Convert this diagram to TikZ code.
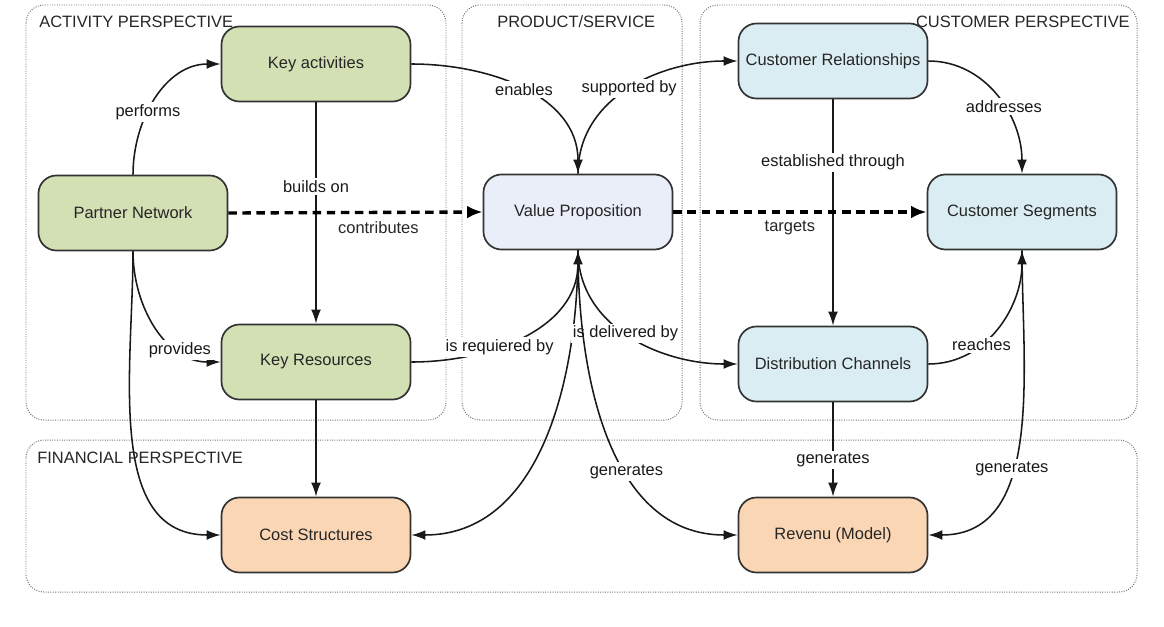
\documentclass[tikz,border=0pt]{standalone}
\usepackage{fontspec}
\setmainfont{Liberation Sans}
\usepackage{tikz}
\usetikzlibrary{positioning, arrows.meta}

\definecolor{actgreen}{HTML}{D2E0B4}
\definecolor{custblue}{HTML}{DAEDF3}
\definecolor{valblue}{HTML}{E9EEF9}
\definecolor{finorange}{HTML}{FBD6B5}

\begin{document}
\begin{tikzpicture}[x=0.025cm, y=-0.025cm,
    font=\fontsize{11.7}{14}\selectfont, text=black!85,
    block/.style={draw=black!80, line width=1.2pt, rounded corners=0.45cm,
      minimum width=4.725cm, minimum height=1.875cm},
    group/.style={draw=black!55, densely dotted, line width=0.7pt, rounded corners=0.45cm},
    link/.style={-{Latex[length=10pt,width=7pt]}, line width=1.1pt, black!90},
    flow/.style={-{Latex[length=11pt,width=9pt]}, line width=2.4pt, dash pattern=on 6pt off 4pt},
    lbl/.style={fill=white, inner sep=1.5pt}]
    \useasboundingbox (0,0) rectangle (1164,626);

    % Perspectives
    \draw[group] (26,5) rectangle (446,420);
    \draw[group] (462,5) rectangle (682,420);
    \draw[group] (700,5) rectangle (1137,420);
    \draw[group] (26,440) rectangle (1137,592);
    \node[anchor=base west, inner sep=0] (actT) at (39,27) {ACTIVITY PERSPECTIVE};
    \node[anchor=base west, inner sep=0] (prodT) at (497,27) {PRODUCT/SERVICE};
    \node[anchor=base east, inner sep=0] (custT) at (1130,27) {CUSTOMER PERSPECTIVE};
    \node[anchor=base west, inner sep=0] (finT) at (37,463) {FINANCIAL PERSPECTIVE};

    % Building blocks
    \foreach \name/\x/\y/\col/\txt in {ka/316/64/actgreen/Key activities,
        pn/133/213/actgreen/Partner Network, kr/316/362/actgreen/Key Resources,
        cost/316/535/finorange/Cost Structures, vp/578/212/valblue/Value Proposition,
        cr/833/61/custblue/Customer Relationships, cs/1022/212/custblue/Customer Segments,
        dc/833/364/custblue/Distribution Channels, rev/833/535/finorange/Revenu (Model)} {
      \node[block, fill=\col] (\name) at (\x,\y) {\txt};
    }

    % Relations
    \draw[link] (pn.north) to[out=90, in=180] node[lbl, pos=0.4] {performs} (ka.west);
    \draw[link] (ka.south) -- node[lbl, pos=0.38] {builds on} (kr.north);
    \draw[link] (ka.east) to[out=0, in=90] node[lbl, pos=0.5] {enables} (vp.north);
    \draw[link] (vp.north) to[out=90, in=180] node[lbl, pos=0.5] {supported by} (cr.west);
    \draw[link] (cr.east) to[out=0, in=90] node[lbl, pos=0.58] {addresses} (cs.north);
    \draw[link] (cr.south) -- node[lbl, pos=0.28] {established through} (dc.north);
    \draw[flow] (pn.east) -- node[below=2pt, pos=0.59] {contributes} (vp.west);
    \draw[flow] (vp.east) -- node[below=2pt, pos=0.46] {targets} (cs.west);
    \draw[link] (pn.south) to[out=270, in=180] node[lbl, pos=0.72] {provides} (kr.west);
    \draw[link] (pn.south) to[out=270, in=180] (cost.west);
    \draw[link] (kr.south) -- (cost.north);
    \draw[link] (kr.east) to[out=0, in=270] node[lbl, pos=0.38] {is requiered by} (vp.south);
    \draw[link] (vp.south) to[out=270, in=0] (cost.east);
    \draw[link] (vp.south) to[out=270, in=180] node[lbl, pos=0.48] {is delivered by} (dc.west);
    \draw[link] (vp.south) to[out=270, in=180] node[lbl, pos=0.6] {generates} (rev.west);
    \draw[link] (dc.south) -- node[lbl, pos=0.61] {generates} (rev.north);
    \draw[link] (dc.east) to[out=0, in=270] node[lbl, pos=0.36] {reaches} (cs.south);
    \draw[link] (cs.south) to[out=270, in=0] node[lbl, pos=0.6] {generates} (rev.east);

\end{tikzpicture}
\end{document}
